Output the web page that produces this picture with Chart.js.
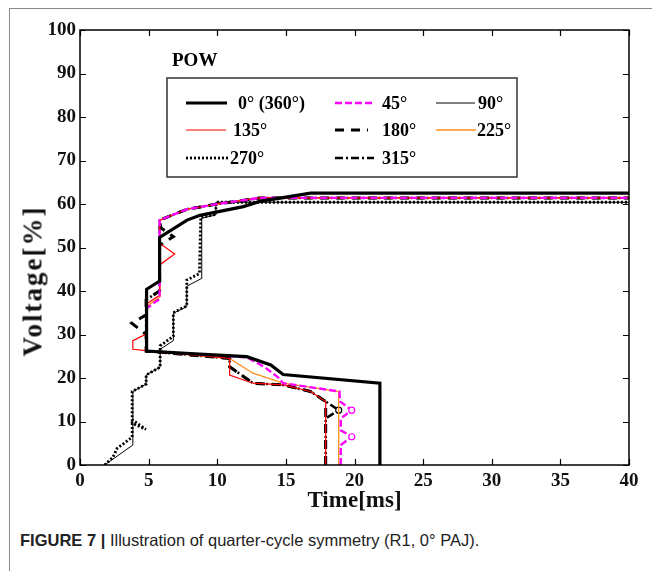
<!DOCTYPE html>
<html>
<head>
<meta charset="utf-8">
<script src="https://cdn.jsdelivr.net/npm/chart.js@4.4.1/dist/chart.umd.min.js"></script>
<style>
  html, body { margin: 0; padding: 0; background: #fff; }
  #wrap { position: relative; width: 652px; height: 571px; overflow: hidden; }
  #frame { position: absolute; left: 9px; top: 8px; width: 700px; height: 700px; border-left: 1px solid #888; border-top: 1px solid #888; }
  #box { position: absolute; left: 0; top: 0; width: 652px; height: 515px; }
  #ytitle { position: absolute; left: 33px; top: 281px; transform: translate(-50%, -50%) rotate(-90deg); font: bold 27px "Liberation Serif"; white-space: nowrap; letter-spacing: 2px; color: #111; }
  #caption { position: absolute; left: 20px; top: 531px; font: 16.5px "Liberation Sans"; color: #222; white-space: nowrap; }
</style>
</head>
<body>
<div id="wrap">
  <div id="frame"></div>
  <div id="box"><canvas id="c"></canvas></div>
  <div id="ytitle">Voltage[%]</div>
  <div id="caption"><b>FIGURE 7 |</b> Illustration of quarter-cycle symmetry (R1, 0° PAJ).</div>
</div>
<script>
// series labels (POW angle)
const labels = ['0° (360°)', '45°', '90°', '135°', '180°', '225°', '270°', '315°'];

// time [ms] / voltage [%], one pair per series
const t0 = [21.85, 21.85, 14.8, 13.9, 12.15, 8.7, 4.85, 4.85, 5.8, 5.8, 7.8, 8.74, 11.9, 13.1, 16.8, 40];
const v0 = [0, 18.8, 20.8, 23.0, 24.9, 25.5, 26.2, 40.4, 42.3, 52.3, 56.3, 57.4, 59.4, 60.6, 62.5, 62.5];

const t45 = [19.0, 19.0, 19.8, 19.0, 19.0, 19.8, 18.95, 18.9, 14.8, 14.5, 13.4, 12.2, 10.9, 4.85, 4.85, 5.8, 5.8, 7.8, 10.0, 13.1, 40];
const v45 = [0, 4.6, 6.5, 8.0, 10.7, 12.6, 14.6, 16.9, 18.8, 20.0, 22.6, 24.7, 25.0, 26.2, 36.0, 38.2, 56.3, 58.8, 60.0, 61.4, 61.4];

const t90 = [1.8, 3.85, 3.85, 4.82, 4.82, 5.84, 5.84, 6.8, 6.8, 7.78, 7.78, 8.87, 8.87, 9.9, 9.9, 40];
const v90 = [0, 4.6, 16.9, 18.6, 20.7, 22.5, 26.6, 28.6, 34.9, 36.4, 41.1, 42.9, 56.7, 57.5, 60.4, 60.4];

const t135 = [17.9, 17.9, 16.8, 14.8, 12.6, 10.9, 10.9, 4.82, 3.85, 3.85, 4.82, 4.82, 5.8, 5.8, 6.9, 5.8, 5.8, 7.8, 10.0, 13.1, 40];
const v135 = [0, 14.6, 16.9, 18.4, 18.8, 20.7, 24.5, 26.3, 26.6, 28.6, 30.1, 37.0, 39.0, 46.0, 48.5, 51.0, 56.3, 58.8, 60.0, 61.4, 61.4];

const t180 = [17.9, 17.9, 16.8, 14.8, 12.6, 10.9, 10.9, 4.82, 4.82, 3.77, 4.82, 4.82, 5.8, 5.8, 6.8, 5.9, 5.8, 7.8, 10.0, 13.1, 40];
const v180 = [0, 14.6, 16.9, 18.4, 18.8, 22.6, 24.5, 26.2, 30.0, 32.6, 34.5, 38.0, 40.0, 50.5, 52.5, 54.5, 56.3, 58.8, 60.0, 61.4, 61.4];

const t225 = [18.85, 18.85, 14.8, 12.6, 10.9, 4.82, 4.82, 5.84, 5.84, 7.8, 10.0, 13.1, 40];
const v225 = [0, 16.9, 18.8, 21.1, 24.5, 26.2, 36.4, 38.7, 56.3, 58.8, 60.0, 61.4, 61.4];

const t270 = [1.8, 2.4, 2.7, 3.8, 3.8, 4.8, 3.8, 3.8, 4.82, 4.82, 5.84, 5.84, 6.8, 6.8, 7.78, 7.78, 8.7, 8.8, 9.9, 9.9, 40];
const v270 = [0, 1.8, 3.8, 6.4, 9.6, 8.2, 10.4, 16.9, 18.6, 20.7, 22.5, 27.4, 29.6, 35.0, 36.6, 42.5, 44.0, 57.0, 57.6, 60.4, 60.4];

const t315 = [17.9, 17.9, 18.85, 17.9, 16.8, 14.8, 12.6, 10.9, 10.9, 4.82, 4.82, 5.8, 5.8, 7.8, 10.0, 13.1, 40];
const v315 = [0, 10.7, 12.6, 14.6, 16.9, 18.4, 18.8, 22.6, 24.5, 26.2, 38.0, 40.0, 56.3, 58.8, 60.0, 61.4, 61.4];

const xTicks = [0, 5, 10, 15, 20, 25, 30, 35, 40];
const yTicks = [0, 10, 20, 30, 40, 50, 60, 70, 80, 90, 100];

function pts(t, v) {
  return t.map((x, i) => ({ x: x, y: v[i] }));
}
// small hollow circles on the zigzag corners
function marks(n, idx, r) {
  return Array.from({ length: n }, (_, i) => idx.includes(i) ? r : 0);
}

const styles = [
  { color: '#000', width: 3.2, dash: [] },
  { color: '#ff00ff', width: 2.4, dash: [7, 3] },
  { color: '#000', width: 1, dash: [] },
  { color: '#ff0000', width: 1.2, dash: [] },
  { color: '#000', width: 3, dash: [9, 7] },
  { color: '#ff8c1a', width: 1.3, dash: [] },
  { color: '#000', width: 2.8, dash: [2, 2] },
  { color: '#000', width: 2.5, dash: [8, 3, 2, 3] }
];

const series = [
  pts(t0, v0), pts(t45, v45), pts(t90, v90), pts(t135, v135),
  pts(t180, v180), pts(t225, v225), pts(t270, v270), pts(t315, v315)
];

const datasets = series.map((d, i) => ({
  label: labels[i],
  data: d,
  showLine: true,
  borderColor: styles[i].color,
  borderWidth: styles[i].width,
  borderDash: styles[i].dash,
  pointRadius: 0,
  pointBorderColor: styles[i].color,
  pointBackgroundColor: '#fff',
  pointBorderWidth: 1.2,
  fill: false
}));
datasets[1].pointRadius = marks(t45.length, [2, 5], 3);
datasets[7].pointRadius = marks(t315.length, [2], 3);

// legend slots: [line start, line end, text x, row y]
const slots = [
  [186, 227, 238, 103], [335, 374, 382, 103], [436, 475, 478, 103],
  [186, 226, 233, 130], [335, 368, 382, 130], [436, 476, 477, 130],
  [186, 228, 230, 158], [335, 374, 382, 158]
];

const serif = '"Liberation Serif", "Times New Roman", serif';

const boxPlugin = {
  id: 'boxPlugin',
  afterDraw(chart) {
    const ctx = chart.ctx;
    const a = chart.chartArea;
    const xs = chart.scales.x, ys = chart.scales.y;
    ctx.save();
    ctx.strokeStyle = '#000';
    ctx.lineWidth = 1.5;
    ctx.strokeRect(a.left, a.top, a.right - a.left, a.bottom - a.top);
    ctx.lineWidth = 1.2;
    ctx.beginPath();
    xTicks.forEach(v => {
      const px = Math.round(xs.getPixelForValue(v)) + 0.5;
      ctx.moveTo(px, a.bottom); ctx.lineTo(px, a.bottom - 6);
      ctx.moveTo(px, a.top); ctx.lineTo(px, a.top + 6);
    });
    yTicks.forEach(v => {
      const py = Math.round(ys.getPixelForValue(v)) + 0.5;
      ctx.moveTo(a.left, py); ctx.lineTo(a.left + 6, py);
      ctx.moveTo(a.right, py); ctx.lineTo(a.right - 6, py);
    });
    ctx.stroke();

    // legend
    ctx.font = 'bold 19px ' + serif;
    ctx.fillStyle = '#000';
    ctx.textBaseline = 'middle';
    ctx.fillText('POW', 172, 61);

    ctx.fillStyle = '#fff';
    ctx.fillRect(167, 78, 350, 99);
    ctx.strokeStyle = '#333';
    ctx.lineWidth = 1.5;
    ctx.strokeRect(167, 78, 350, 99);

    ctx.font = 'bold 18px ' + serif;
    labels.forEach((lab, i) => {
      const s = slots[i], st = styles[i];
      ctx.strokeStyle = st.color;
      ctx.lineWidth = st.width;
      ctx.setLineDash(st.dash);
      ctx.beginPath();
      ctx.moveTo(s[0], s[3]);
      ctx.lineTo(s[1], s[3]);
      ctx.stroke();
      ctx.setLineDash([]);
      ctx.fillStyle = '#000';
      ctx.fillText(lab, s[2], s[3] + 1);
    });
    ctx.restore();
  }
};

new Chart(document.getElementById('c'), {
  type: 'scatter',
  data: { datasets: datasets },
  options: {
    responsive: true,
    maintainAspectRatio: false,
    animation: false,
    layout: { padding: { top: 30, right: 23, left: 0, bottom: 0 } },
    elements: { line: { tension: 0 } },
    plugins: { legend: { display: false }, tooltip: { enabled: false } },
    scales: {
      x: {
        type: 'linear', min: 0, max: 40,
        afterBuildTicks: s => { s.ticks = xTicks.map(v => ({ value: v })); },
        afterFit: s => { s.height = 50; },
        grid: { display: false, drawTicks: false },
        border: { display: false },
        ticks: { color: '#111', padding: 5, maxRotation: 0, font: { family: serif, size: 19, weight: 'bold' } },
        title: { display: true, text: 'Time[ms]', color: '#111', padding: 0, font: { family: serif, size: 23, weight: 'bold' } }
      },
      y: {
        type: 'linear', min: 0, max: 100,
        afterBuildTicks: s => { s.ticks = yTicks.map(v => ({ value: v })); },
        afterFit: s => { s.width = 80; },
        grid: { display: false, drawTicks: false },
        border: { display: false },
        ticks: { color: '#111', padding: 4, font: { family: serif, size: 19, weight: 'bold' } }
      }
    }
  },
  plugins: [boxPlugin]
});
</script>
</body>
</html>
